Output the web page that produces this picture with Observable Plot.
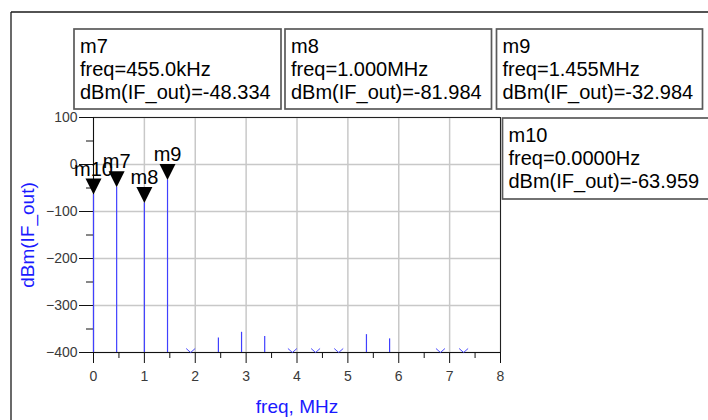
<!DOCTYPE html>
<html>
<head>
<meta charset="utf-8">
<script src="https://cdn.jsdelivr.net/npm/d3@7"></script>
<script src="https://cdn.jsdelivr.net/npm/@observablehq/plot@0.6"></script>
<style>
  html, body { margin: 0; padding: 0; background: #ffffff; }
  #chart svg { display: block; }
</style>
</head>
<body>
<div id="chart"></div>
<script>
// Spectrum of the IF output: marked tones and mixing spurs
const markerNames = ["m10", "m7", "m8", "m9"];
const markerFreqMHz = [0, 0.455, 1.0, 1.455];
const markerDbm = [-63.959, -48.334, -81.984, -32.984];

const spurFreqMHz = [2.455, 2.91, 3.365, 5.365, 5.82];
const spurDbm = [-369, -357, -366, -362, -371];

// tones that fall below the bottom of the y range
const belowRangeFreqMHz = [1.91, 3.91, 4.365, 4.82, 6.82, 7.275];

const xMajorTicks = [0, 1, 2, 3, 4, 5, 6, 7, 8];
const xMinorTicks = [0.5, 1.5, 2.5, 3.5, 4.5, 5.5, 6.5, 7.5];
const yMajorTicks = [100, 0, -100, -200, -300, -400];
const yMinorTicks = [50, -50, -150, -250, -350];

const xTitle = "freq, MHz";
const yTitle = "dBm(IF_out)";

const markers = markerNames.map((name, i) => ({name, freq: markerFreqMHz[i], dbm: markerDbm[i]}));
const spurs = spurFreqMHz.map((freq, i) => ({freq, dbm: spurDbm[i]}));
const tones = [...markers, ...spurs];

const FONT = "Arial, 'Liberation Sans', sans-serif";
const STEM = "#4040ff";

// filled marker triangle, tip on the data point
const triangleDown = {
  draw(ctx) {
    ctx.moveTo(-8, -16);
    ctx.lineTo(8, -16);
    ctx.lineTo(0, 0);
    ctx.closePath();
  }
};
// open chevron sitting on the floor of the plot
const chevron = {
  draw(ctx) {
    ctx.moveTo(-4.5, -4);
    ctx.lineTo(0, 0);
    ctx.lineTo(4.5, -4);
  }
};

const chart = Plot.plot({
  width: 708,
  height: 420,
  marginLeft: 93,
  marginRight: 208,
  marginTop: 117,
  marginBottom: 68,
  style: {fontFamily: FONT, background: "#ffffff", overflow: "visible"},
  x: {domain: [0, 8]},
  y: {domain: [-400, 100]},
  marks: [
    Plot.gridX({ticks: xMajorTicks, stroke: "#c8c8c8", strokeOpacity: 1, strokeWidth: 1.5}),
    Plot.gridY({ticks: yMajorTicks, stroke: "#c8c8c8", strokeOpacity: 1, strokeWidth: 1.5}),
    Plot.ruleY([100], {stroke: "#222"}),
    Plot.ruleX([8], {stroke: "#222"}),
    Plot.ruleX([0], {stroke: "#111"}),
    Plot.ruleY([-400], {stroke: "#111"}),
    Plot.axisX({ticks: xMajorTicks, tickSize: 11, tickPadding: 8, fontSize: 14, color: "#111", fill: "#3a3a3a", label: null, tickFormat: d3.format("d")}),
    Plot.axisX({ticks: xMinorTicks, tickSize: 6, color: "#111", label: null, tickFormat: () => ""}),
    Plot.axisY({ticks: yMajorTicks, tickSize: 14, tickPadding: 2, fontSize: 14, color: "#111", fill: "#3a3a3a", label: null, tickFormat: d3.format("d")}),
    Plot.axisY({ticks: yMinorTicks, tickSize: 7, color: "#111", label: null, tickFormat: () => ""}),
    Plot.ruleX(tones, {x: "freq", y1: -400, y2: "dbm", stroke: STEM, strokeWidth: 1.2}),
    Plot.dot(belowRangeFreqMHz, {x: d => d, frameAnchor: "bottom", symbol: chevron, stroke: "#4a4aff", fill: "none", strokeWidth: 1}),
    Plot.dot(markers, {x: "freq", y: "dbm", symbol: triangleDown, fill: "#000", stroke: "none"}),
    Plot.text(markers, {x: "freq", y: "dbm", text: "name", dy: -19, lineAnchor: "bottom", fontSize: 20, fill: "#000"}),
    Plot.text([xTitle], {text: d => d, frameAnchor: "bottom", dy: 60, lineAnchor: "bottom", textAnchor: "middle", fontSize: 19, fill: "#1a1aff"}),
    Plot.text([yTitle], {text: d => d, frameAnchor: "left", dx: -66, rotate: -90, textAnchor: "middle", lineAnchor: "middle", fontSize: 19, fill: "#1a1aff", letterSpacing: "1.4px"})
  ]
});

document.getElementById("chart").appendChild(chart);

// marker readout boxes and the outer window frame
const svg = d3.select(chart);

function freqText(mhz) {
  if (mhz === 0) return "freq=0.0000Hz";
  if (mhz < 1) return `freq=${(mhz * 1000).toFixed(1)}kHz`;
  return `freq=${mhz.toFixed(3)}MHz`;
}

const boxLayout = {
  m7:  {x: 74,    y: 29,  w: 207, h: 80},
  m8:  {x: 285,   y: 29,  w: 206.5, h: 80},
  m9:  {x: 496.5, y: 29,  w: 206, h: 80},
  m10: {x: 502.5, y: 118, w: 240, h: 81}
};

const frame = svg.append("g").attr("fill", "none").attr("stroke", "#1a1a1a").attr("stroke-width", 1.3);
frame.append("line").attr("x1", 11).attr("y1", 12).attr("x2", 720).attr("y2", 12);
frame.append("line").attr("x1", 11).attr("y1", 12).attr("x2", 11).attr("y2", 430);

const boxes = svg.append("g")
  .attr("text-anchor", "start")
  .style("font-family", FONT)
  .style("font-size", "20px");
for (const m of ["m7", "m8", "m9", "m10"].map(n => markers.find(d => d.name === n))) {
  const b = boxLayout[m.name];
  const g = boxes.append("g");
  g.append("rect")
    .attr("x", b.x).attr("y", b.y).attr("width", b.w).attr("height", b.h)
    .attr("fill", "#ffffff").attr("stroke", "#5a5a5a").attr("stroke-width", 1.7);
  const lines = [m.name, freqText(m.freq), `dBm(IF_out)=${m.dbm.toFixed(3)}`];
  lines.forEach((t, i) => {
    g.append("text").attr("x", b.x + 6).attr("y", b.y + 24 + i * 23).attr("fill", "#000").text(t);
  });
}
</script>
</body>
</html>
